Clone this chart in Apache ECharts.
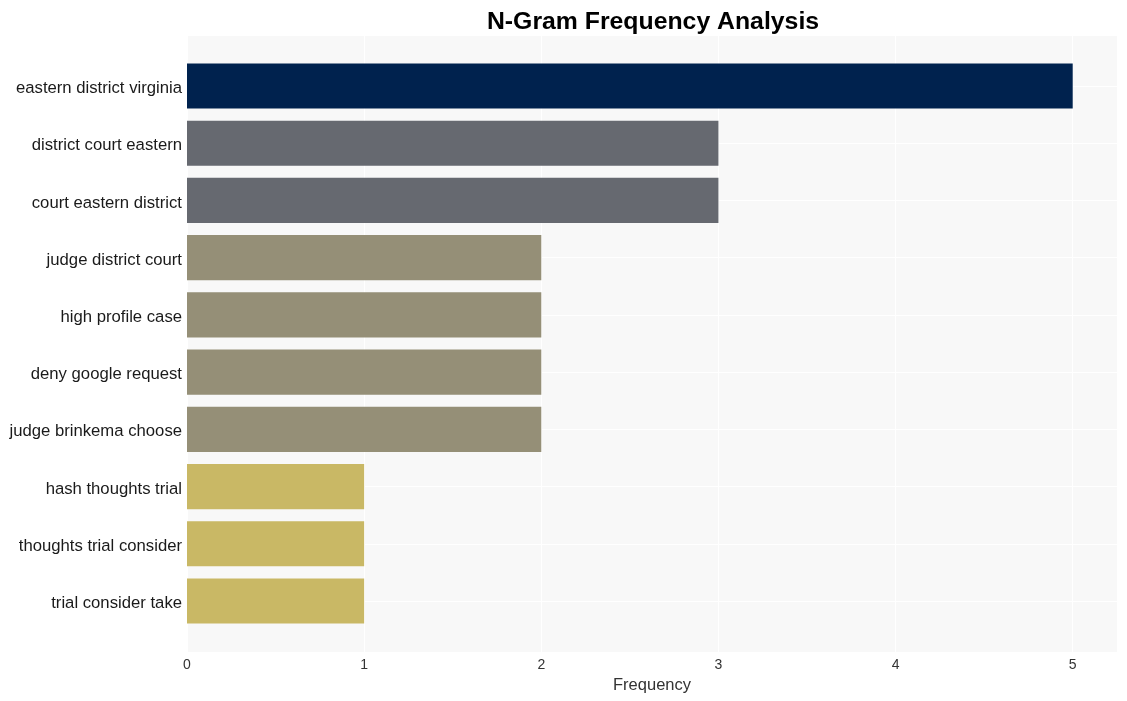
<!DOCTYPE html>
<html><head><meta charset="utf-8">
<script src="https://cdn.jsdelivr.net/npm/echarts@6/dist/echarts.min.js"></script>
<style>html,body{margin:0;padding:0;background:#fff}#c{width:1127px;height:701px}</style>
</head><body><div id="c"></div>
<script>
const categories = ["eastern district virginia","district court eastern","court eastern district","judge district court","high profile case","deny google request","judge brinkema choose","hash thoughts trial","thoughts trial consider","trial consider take"];
const values = [5,3,3,2,2,2,2,1,1,1];
const colors = ["#00224E","#666970","#666970","#958F77","#958F77","#958F77","#958F77","#C9B865","#C9B865","#C9B865"];
const xTicks = [0,1,2,3,4,5];

const chart = echarts.init(document.getElementById('c'));
chart.setOption({
  animation:false,
  title:{text:'N-Gram Frequency Analysis',left:648,top:5,textAlign:'center',
    textStyle:{fontFamily:'Liberation Sans, Arial',fontSize:24.8,fontWeight:'bold',color:'#000'}},
  grid:[
    {left:187,right:10,top:57.4,bottom:71.4,containLabel:false},
    {left:187,right:10,top:36,bottom:49,show:true,backgroundColor:'#F8F8F8',borderWidth:0,z:0}
  ],
  xAxis:[
    {gridIndex:0,type:'value',min:0,max:5.25,show:false},
    {gridIndex:1,type:'value',min:0,max:5.25,interval:1,
      axisLine:{show:false},axisTick:{show:false},
      axisLabel:{color:'#333',fontSize:14,fontFamily:'Liberation Sans, Arial',margin:6,showMaxLabel:false,
        formatter:v=>xTicks.includes(v)?String(v):''},
      splitLine:{show:true,lineStyle:{color:'#FFFFFF',width:1}},
      name:'Frequency',nameLocation:'middle',nameGap:22,
      nameTextStyle:{color:'#333',fontSize:16.5,fontFamily:'Liberation Sans, Arial'}}
  ],
  yAxis:[
    {gridIndex:0,type:'category',data:categories,inverse:true,
      axisLine:{show:false},axisTick:{show:false},splitLine:{show:false},
      axisLabel:{margin:5,formatter:v=>'{a|'+v+'}',
        rich:{a:{color:'#1a1a1a',fontSize:16.7,fontFamily:'Liberation Sans, Arial',padding:[5,0,0,0]}}}},
    {gridIndex:1,type:'value',show:false,min:0,max:1}
  ],
  series:[{
    type:'bar',xAxisIndex:0,yAxisIndex:0,
    data:values.map((v,i)=>({value:v,itemStyle:{color:colors[i]}})),
    barCategoryGap:'21%',
    z:3,
    markLine:{silent:true,symbol:'none',label:{show:false},
      lineStyle:{color:'#FFFFFF',width:1,type:'solid'},
      data:categories.map(c=>({yAxis:c})),z:1}
  }]
});
</script></body></html>
